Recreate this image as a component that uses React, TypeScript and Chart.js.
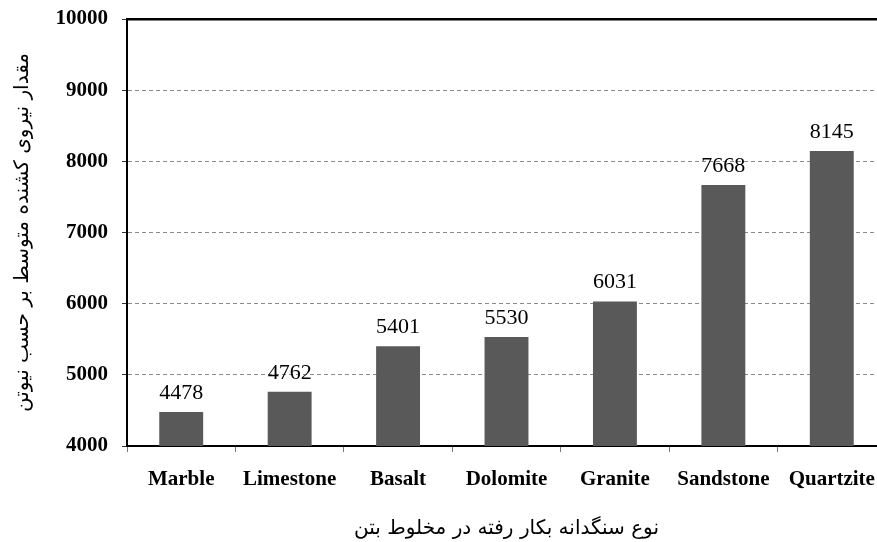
import React, { useEffect, useRef } from "react";
import { Chart, registerables } from "chart.js";

Chart.register(...registerables);

const categories: string[] = ["Marble", "Limestone", "Basalt", "Dolomite", "Granite", "Sandstone", "Quartzite"];
const forceValues: number[] = [4478, 4762, 5401, 5530, 6031, 7668, 8145];
const yTickValues: number[] = [4000, 5000, 6000, 7000, 8000, 9000, 10000];
const yTitle = "مقدار نیروی کشنده متوسط بر حسب نیوتن";
const xTitle = "نوع سنگدانه بکار رفته در مخلوط بتن";

const SERIF = '"Liberation Serif", "Times New Roman", serif';
const PERSIAN = '"DejaVu Sans", "Noto Sans", sans-serif';

const valueLabels = {
  id: "valueLabels",
  afterDatasetsDraw(chart: any) {
    const ctx = chart.ctx;
    const meta = chart.getDatasetMeta(0);
    const data = chart.data.datasets[0].data as number[];
    ctx.save();
    ctx.font = `22px ${SERIF}`;
    ctx.fillStyle = "#000";
    ctx.textAlign = "center";
    ctx.textBaseline = "alphabetic";
    meta.data.forEach((bar: any, i: number) => {
      ctx.fillText(String(data[i]), bar.x, bar.y - 13);
    });
    ctx.restore();
  },
};

export default function App() {
  const canvasRef = useRef<HTMLCanvasElement | null>(null);

  useEffect(() => {
    if (!canvasRef.current) return;
    const chart = new Chart(canvasRef.current, {
      type: "bar",
      data: {
        labels: categories,
        datasets: [
          {
            data: forceValues,
            backgroundColor: "#595959",
            borderWidth: 0,
            barPercentage: 0.405,
            categoryPercentage: 1,
            xAxisID: "x",
            yAxisID: "y",
          },
        ],
      },
      options: {
        animation: false,
        responsive: false,
        devicePixelRatio: 1,
        layout: { padding: 0 },
        plugins: {
          legend: { display: false },
          tooltip: { enabled: false },
        },
        scales: {
          x: {
            type: "category",
            position: "bottom",
            offset: true,
            grid: {
              display: true,
              offset: true,
              drawOnChartArea: false,
              drawTicks: true,
              tickLength: 6,
              color: "#777",
              tickColor: "#777",
              lineWidth: 1,
            },
            border: { display: true, color: "#000", width: 2 },
            ticks: {
              color: "#000",
              font: { family: SERIF, size: 21, weight: "bold" },
              padding: 15,
              maxRotation: 0,
              autoSkip: false,
            },
            title: {
              display: true,
              text: xTitle,
              color: "#000",
              font: { family: PERSIAN, size: 20, lineHeight: 1.25 },
              padding: { top: 0, bottom: 1 },
            },
            afterFit(scale: any) {
              scale.height = 96;
              scale.paddingLeft = 0;
              scale.paddingRight = 0;
            },
          },
          x2: {
            type: "category",
            labels: categories,
            position: "top",
            offset: true,
            grid: { display: false, drawTicks: false },
            ticks: { display: false },
            border: { display: true, color: "#000", width: 2.5 },
            afterFit(scale: any) {
              scale.height = 19;
              scale.paddingLeft = 0;
              scale.paddingRight = 0;
            },
          },
          y: {
            type: "linear",
            position: "left",
            min: 4000,
            max: 10000,
            afterBuildTicks(scale: any) {
              scale.ticks = yTickValues.map((v) => ({ value: v }));
            },
            grid: {
              display: true,
              drawTicks: true,
              tickLength: 5,
              lineWidth: 1,
              color: (ctx: any) => {
                const v = ctx.tick ? ctx.tick.value : 0;
                return v > 4000 && v < 10000 ? "#8a8a8a" : "rgba(0,0,0,0)";
              },
              tickColor: "#333",
            },
            border: { display: true, color: "#000", width: 2, dash: [4, 3] },
            ticks: {
              color: "#000",
              font: { family: SERIF, size: 21, weight: "bold" },
              padding: 14,
              callback: (value: any) => String(value),
            },
            title: {
              display: true,
              text: yTitle,
              color: "#000",
              font: { family: PERSIAN, size: 20, lineHeight: 1.25 },
              padding: { top: 10, bottom: 0 },
            },
            afterFit(scale: any) {
              scale.width = 127;
              scale.paddingTop = 0;
              scale.paddingBottom = 0;
            },
          },
        },
      } as any,
      plugins: [valueLabels],
    });
    return () => chart.destroy();
  }, []);

  return (
    <div
      style={{
        position: "fixed",
        left: 0,
        top: 0,
        width: 877,
        height: 542,
        overflow: "hidden",
        background: "#fff",
      }}
    >
      <div style={{ width: 886, height: 542 }}>
        <canvas ref={canvasRef} width={886} height={542} style={{ width: 886, height: 542, display: "block" }} />
      </div>
    </div>
  );
}
